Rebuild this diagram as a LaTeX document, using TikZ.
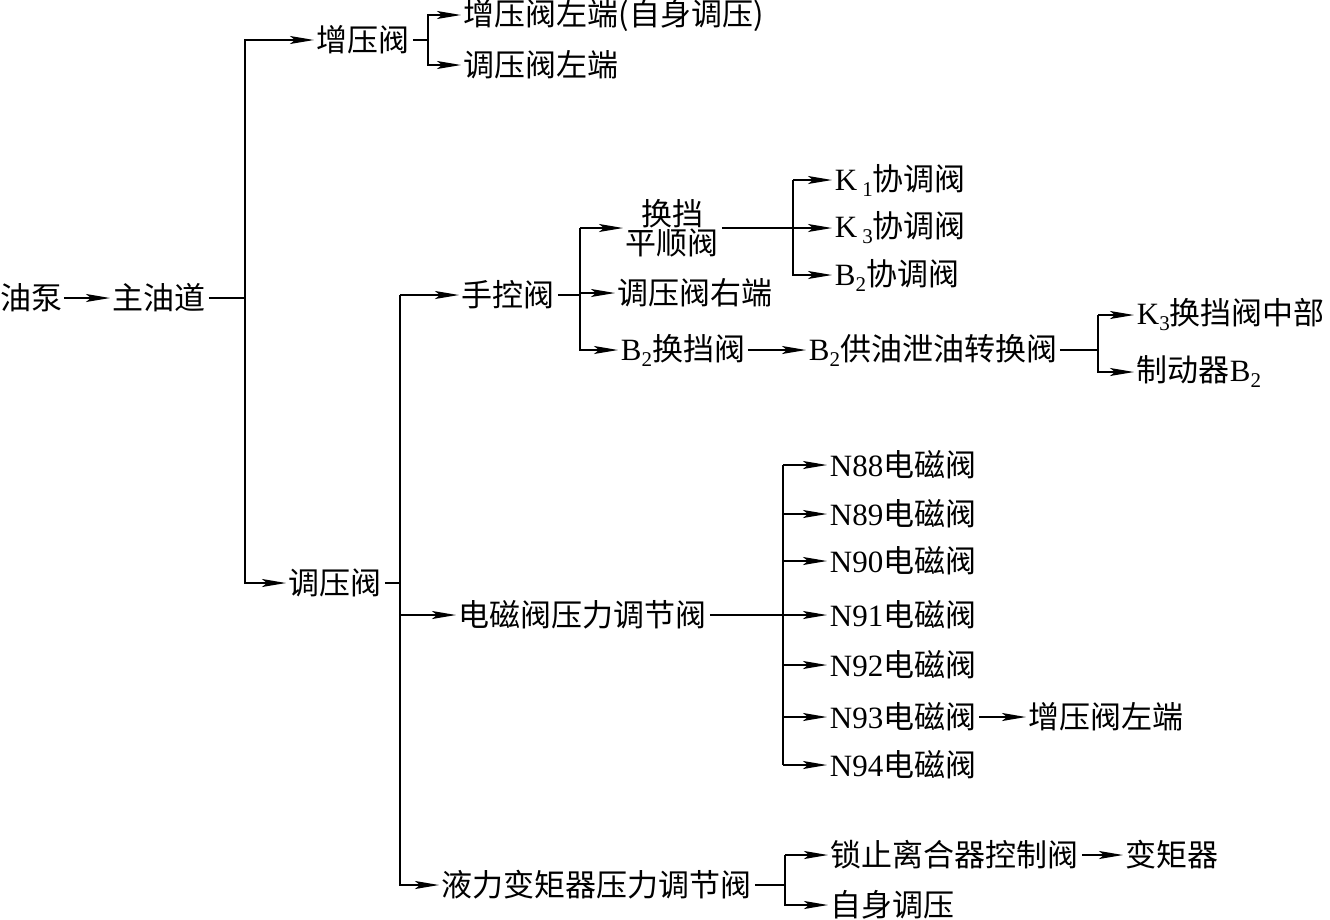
\documentclass[tikz,border=0pt]{standalone}
\usepackage{fontspec}
\setmainfont{Liberation Serif}
\newfontfamily\cjk{Noto Sans CJK SC}
\usetikzlibrary{arrows.meta}
\newcommand\lowidx[1]{\raisebox{-6pt}{\fontsize{21}{21}\selectfont #1}}
\tikzset{
  lbl/.style={anchor=west,inner sep=2pt,font=\cjk\fontsize{31}{33}\selectfont},
  flow/.style={-{Stealth[length=24pt,width=8pt,inset=5pt]}},
}
\begin{document}
\begin{tikzpicture}[x=1pt,y=-1pt,line width=1.8pt]
\useasboundingbox (0,0) rectangle (1330,919);
% trunk lines
\coordinate (ja) at (245,0);
\coordinate (jb) at (428,0);
\coordinate (jc) at (400,0);
\coordinate (jd) at (580,0);
\coordinate (je) at (793,0);
\coordinate (jf) at (1098,0);
\coordinate (jg) at (783,0);
\coordinate (jh) at (785,0);
% nodes
\node[lbl,inner sep=0pt] (pump) at (0,298) {油泵};
\node[lbl] (main) at (110,298) {主油道};
\node[lbl] (boost) at (314,40) {增压阀};
\node[lbl] (boostl) at (461,15) {增压阀左端(自身调压)};
\node[lbl] (regl) at (461,65) {调压阀左端};
\node[lbl] (reg) at (286,583) {调压阀};
\node[lbl] (manual) at (459,295) {手控阀};
\node[lbl,align=center] (shift) at (623,228) {换挡\\[-4pt]平顺阀};
\node[lbl] (regr) at (615,293) {调压阀右端};
\node[lbl] (btwo) at (618,350) {\rmfamily B\lowidx{2}\cjk 换挡阀};
\node[lbl] (bsw) at (806,350) {\rmfamily B\lowidx{2}\cjk 供油泄油转换阀};
\node[lbl] (kmid) at (1134,315) {\rmfamily K\lowidx{3}\cjk 换挡阀中部};
\node[lbl] (brake) at (1134,372) {制动器\rmfamily B\lowidx{2}};
\node[lbl] (kone) at (832,180) {\rmfamily K\,\lowidx{1}\cjk 协调阀};
\node[lbl] (kthree) at (832,228) {\rmfamily K\,\lowidx{3}\cjk 协调阀};
\node[lbl] (bco) at (832,275) {\rmfamily B\lowidx{2}\cjk 协调阀};
\node[lbl] (sol) at (456,615) {电磁阀压力调节阀};
\foreach \n/\y in {88/465,89/514,90/561,91/615,92/665,93/717,94/765}
  \node[lbl] (n\n) at (827,\y) {\rmfamily N\n\cjk 电磁阀};
\node[lbl] (boostlb) at (1026,717) {增压阀左端};
\node[lbl] (tc) at (439,885) {液力变矩器压力调节阀};
\node[lbl] (lock) at (828,855) {锁止离合器控制阀};
\node[lbl] (self) at (828,905) {自身调压};
\node[lbl] (conv) at (1123,855) {变矩器};
% connectors
\draw[flow] (pump.east) -- (main.west);
\draw[flow] (main.east) -- (main.east -| ja) |- (boost.west);
\draw[flow] (main.east -| ja) |- (reg.west);
\draw[flow] (boost.east) -- (boost.east -| jb) |- (boostl.west);
\draw[flow] (boost.east -| jb) |- (regl.west);
\draw (reg.east) -- (reg.east -| jc);
\draw[flow] (jc |- manual.west) -- (manual.west);
\draw[flow] (jc |- sol.west) -- (sol.west);
\draw[flow] (jc |- manual.west) |- (tc.west);
\draw (manual.east) -- (manual.east -| jd);
\draw[flow] (jd |- shift.west) |- (btwo.west);
\draw[flow] (jd |- shift.west) -- (shift.west);
\draw[flow] (jd |- regr.west) -- (regr.west);
\draw (shift.east) -- (shift.east -| je);
\draw[flow] (je |- kone.west) |- (bco.west);
\draw[flow] (je |- kone.west) -- (kone.west);
\draw[flow] (je |- kthree.west) -- (kthree.west);
\draw[flow] (btwo.east) -- (bsw.west);
\draw (bsw.east) -- (bsw.east -| jf);
\draw[flow] (jf |- kmid.west) |- (brake.west);
\draw[flow] (jf |- kmid.west) -- (kmid.west);
\draw (sol.east) -- (sol.east -| jg);
\draw (jg |- n88.west) -- (jg |- n94.west);
\foreach \n in {88,89,90,91,92,93,94}
  \draw[flow] (jg |- n\n.west) -- (n\n.west);
\draw[flow] (n93.east) -- (boostlb.west);
\draw (tc.east) -- (tc.east -| jh);
\draw[flow] (jh |- lock.west) |- (self.west);
\draw[flow] (jh |- lock.west) -- (lock.west);
\draw[flow] (lock.east) -- (conv.west);
\end{tikzpicture}
\end{document}
